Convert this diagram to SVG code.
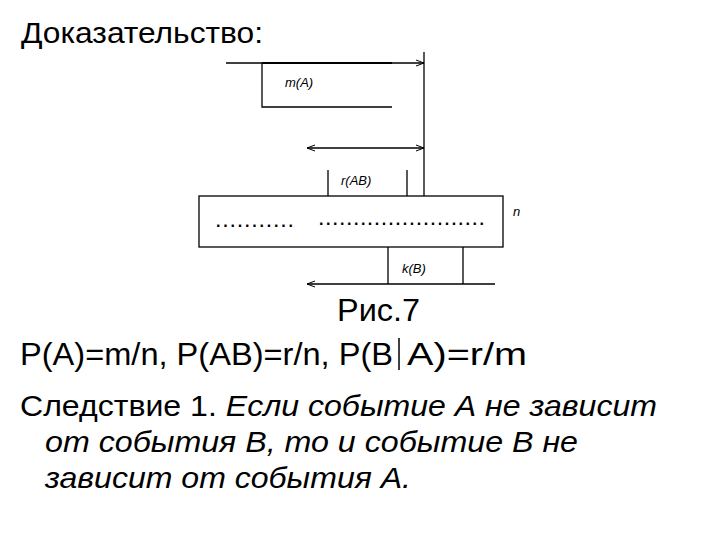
<svg xmlns="http://www.w3.org/2000/svg" width="720" height="540" viewBox="0 0 720 540">
<style>
.t{font-family:"Liberation Sans",Arial,sans-serif;fill:#000}
.big{font-size:29px}
.big2{font-size:31px}
.lbl{font-size:13px;font-style:italic}
.it{font-style:italic}
.ln{stroke:#000;stroke-width:1.3;fill:none}
.dots{font-family:"Liberation Sans",Arial,sans-serif;font-size:16px;font-weight:bold;fill:#000}
</style>
<defs>
<marker id="ah" markerWidth="10" markerHeight="8" refX="9" refY="4" orient="auto-start-reverse" markerUnits="userSpaceOnUse">
<path d="M1,1 L9,4 L1,7" fill="none" stroke="#000" stroke-width="1"/>
</marker>
</defs>
<rect width="720" height="540" fill="#fff"/>
<text class="t big" x="21" y="43" textLength="242" lengthAdjust="spacingAndGlyphs">Доказательство:</text>

<g id="connectors">
<line class="ln" x1="226" y1="63" x2="424" y2="63" marker-end="url(#ah)"/>
<line class="ln" x1="424" y1="52" x2="424" y2="196"/>
<line class="ln" x1="307" y1="148" x2="424" y2="148" marker-start="url(#ah)" marker-end="url(#ah)"/>
<line class="ln" x1="307" y1="284" x2="495" y2="284" marker-start="url(#ah)"/>
</g>

<g id="mA">
<path class="ln" d="M392,107 H262 V63" />
<line x1="262" y1="63" x2="392" y2="63" stroke="#000" stroke-width="2.2"/>
<text class="t lbl" x="285" y="87">m(A)</text>
</g>

<g id="rAB">
<path class="ln" d="M328,170 V196 M407,170 V196"/>
<text class="t lbl" x="341" y="185">r(AB)</text>
</g>

<g id="n">
<rect class="ln" x="199" y="196" width="304" height="51"/>
<text class="dots" x="216" y="227" textLength="77" lengthAdjust="spacing">...........</text>
<text class="dots" x="319" y="225" textLength="165" lengthAdjust="spacing">........................</text>
<text class="t lbl" x="513" y="216">n</text>
</g>

<g id="kB">
<path class="ln" d="M388,247 V284 M463,247 V284"/>
<text class="t lbl" x="402" y="273">k(B)</text>
</g>

<text class="t big2" x="337" y="321" textLength="83" lengthAdjust="spacingAndGlyphs">Рис.7</text>
<text class="t big2" x="20" y="365" textLength="373" lengthAdjust="spacingAndGlyphs">P(A)=m/n, P(AB)=r/n, P(B</text>
<line x1="399" y1="338" x2="399" y2="370" stroke="#000" stroke-width="1.5"/>
<text class="t big2" x="407" y="365" textLength="120" lengthAdjust="spacingAndGlyphs">A)=r/m</text>

<text class="t big" x="20" y="416" textLength="637" lengthAdjust="spacingAndGlyphs">Следствие 1. <tspan class="it">Если событие А не зависит</tspan></text>
<text class="t big it" x="45" y="452" textLength="533" lengthAdjust="spacingAndGlyphs">от события В, то и событие В не</text>
<text class="t big it" x="45" y="488" textLength="366" lengthAdjust="spacingAndGlyphs">зависит от события А.</text>
</svg>
